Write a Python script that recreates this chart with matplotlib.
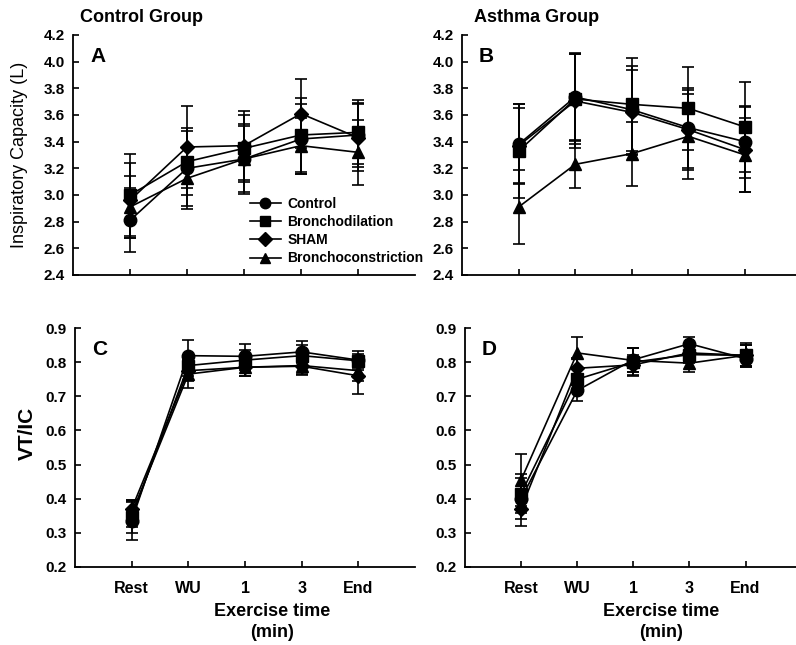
import matplotlib
matplotlib.use("Agg")
import matplotlib.pyplot as plt
import numpy as np

plt.rcParams['font.family'] = ['Liberation Sans', 'DejaVu Sans']

times = ["Rest", "WU", "1", "3", "End"]
groups = ["Control", "Bronchodilation", "SHAM", "Bronchoconstriction"]
markers = ["o", "s", "D", "^"]
msizes = [9, 8.5, 7, 9]

# panel A - inspiratory capacity, control group
a_control = [2.81, 3.20, 3.27, 3.42, 3.45]
a_control_err = [0.24, 0.28, 0.26, 0.26, 0.24]
a_bdil = [3.00, 3.25, 3.35, 3.45, 3.47]
a_bdil_err = [0.31, 0.25, 0.25, 0.28, 0.24]
a_sham = [2.96, 3.36, 3.37, 3.61, 3.43]
a_sham_err = [0.28, 0.31, 0.26, 0.26, 0.25]
a_bcon = [2.91, 3.125, 3.27, 3.37, 3.32]
a_bcon_err = [0.23, 0.23, 0.25, 0.21, 0.245]

# panel B - inspiratory capacity, asthma group
b_control = [3.38, 3.735, 3.64, 3.505, 3.40]
b_control_err = [0.30, 0.33, 0.33, 0.30, 0.27]
b_bdil = [3.33, 3.72, 3.68, 3.65, 3.51]
b_bdil_err = [0.35, 0.34, 0.35, 0.31, 0.34]
b_sham = [3.37, 3.705, 3.62, 3.49, 3.34]
b_sham_err = [0.28, 0.35, 0.32, 0.30, 0.32]
b_bcon = [2.91, 3.23, 3.31, 3.44, 3.30]
b_bcon_err = [0.28, 0.18, 0.24, 0.32, 0.28]

# panel C - VT/IC, control group
c_control = [0.336, 0.819, 0.817, 0.830, 0.806]
c_control_err = [0.058, 0.045, 0.035, 0.032, 0.028]
c_bdil = [0.346, 0.790, 0.806, 0.819, 0.804]
c_bdil_err = [0.045, 0.030, 0.030, 0.030, 0.020]
c_sham = [0.370, 0.775, 0.785, 0.788, 0.760]
c_sham_err = [0.025, 0.030, 0.025, 0.025, 0.052]
c_bcon = [0.356, 0.765, 0.785, 0.790, 0.775]
c_bcon_err = [0.040, 0.040, 0.025, 0.025, 0.030]

# panel D - VT/IC, asthma group
d_control = [0.400, 0.717, 0.807, 0.854, 0.810]
d_control_err = [0.060, 0.030, 0.035, 0.020, 0.025]
d_bdil = [0.415, 0.750, 0.800, 0.822, 0.820]
d_bdil_err = [0.057, 0.030, 0.040, 0.025, 0.030]
d_sham = [0.371, 0.782, 0.792, 0.827, 0.820]
d_sham_err = [0.050, 0.030, 0.030, 0.025, 0.030]
d_bcon = [0.455, 0.827, 0.805, 0.797, 0.820]
d_bcon_err = [0.075, 0.048, 0.035, 0.027, 0.035]

W, H = 796, 645
fig = plt.figure(figsize=(W / 100, H / 100), dpi=100)

def px(x0, y0, x1, y1):
    # pixel box -> figure fraction rect
    return [x0 / W, 1 - y1 / H, (x1 - x0) / W, (y1 - y0) / H]

axA = fig.add_axes(px(73, 35, 415, 275))
axB = fig.add_axes(px(462, 35, 796, 275))
axC = fig.add_axes(px(75, 328, 415, 567))
axD = fig.add_axes(px(465, 328, 796, 567))

xpos = np.arange(1, len(times) + 1)

def draw(ax, series, errs, ylim, yticks, fmt, letter, xmax, show_x):
    lines = []
    for vals, err, m, ms in zip(series, errs, markers, msizes):
        ax.errorbar(xpos, vals, yerr=err, fmt='none', ecolor='black',
                    elinewidth=1.2, capsize=4, capthick=1.2, zorder=2)
        ln, = ax.plot(xpos, vals, color='black', lw=1.2, marker=m,
                      markersize=ms, markerfacecolor='black',
                      markeredgecolor='black', zorder=3)
        lines.append(ln)
    ax.set_xlim(0, xmax)
    ax.set_ylim(*ylim)
    ax.set_yticks(yticks)
    ax.set_yticklabels([fmt % v for v in yticks])
    ax.set_xticks(xpos)
    if show_x:
        ax.set_xticklabels(times)
    else:
        ax.set_xticklabels([])
    for s in ['top', 'right']:
        ax.spines[s].set_visible(False)
    for s in ['left', 'bottom']:
        ax.spines[s].set_linewidth(1.3)
    ax.tick_params(direction='in', length=4, width=1.2, labelsize=11,
                   pad=6)
    ax.tick_params(axis='x', pad=10, labelsize=11.5)
    for lab in ax.get_xticklabels() + ax.get_yticklabels():
        lab.set_fontweight('bold')
    ax.text(0.05, 0.95, letter, transform=ax.transAxes, fontsize=15,
            fontweight='bold', va='top', ha='left')
    return lines

ic_ticks = np.round(np.arange(2.4, 4.21, 0.2), 1)
vt_ticks = np.round(np.arange(0.2, 0.91, 0.1), 1)

lines = draw(axA, [a_control, a_bdil, a_sham, a_bcon],
             [a_control_err, a_bdil_err, a_sham_err, a_bcon_err],
             (2.4, 4.2), ic_ticks, "%.1f", "A", 6, False)
draw(axB, [b_control, b_bdil, b_sham, b_bcon],
     [b_control_err, b_bdil_err, b_sham_err, b_bcon_err],
     (2.4, 4.2), ic_ticks, "%.1f", "B", 5.9, False)
draw(axC, [c_control, c_bdil, c_sham, c_bcon],
     [c_control_err, c_bdil_err, c_sham_err, c_bcon_err],
     (0.2, 0.9), vt_ticks, "%.1f", "C", 6, True)
draw(axD, [d_control, d_bdil, d_sham, d_bcon],
     [d_control_err, d_bdil_err, d_sham_err, d_bcon_err],
     (0.2, 0.9), vt_ticks, "%.1f", "D", 5.9, True)

leg = axA.legend(lines, groups, loc='upper left', frameon=False,
                 bbox_to_anchor=(250 / W, 1 - 197 / H),
                 bbox_transform=fig.transFigure, borderpad=0,
                 borderaxespad=0, handlelength=2.2, handletextpad=0.5,
                 labelspacing=0.3, prop={'weight': 'bold', 'size': 10})
for h in leg.legend_handles:
    h.set_markersize(7.5)

fig.text(80 / W, 1 - 17 / H, "Control Group", fontsize=13,
         fontweight='bold', va='center', ha='left')
fig.text(474 / W, 1 - 17 / H, "Asthma Group", fontsize=13,
         fontweight='bold', va='center', ha='left')

fig.text(20 / W, 1 - 155 / H, "Inspiratory Capacity (L)", fontsize=13,
         rotation=90, va='center', ha='center')
fig.text(27 / W, 1 - 433 / H, "VT/IC", fontsize=15, fontweight='bold',
         rotation=90, va='center', ha='center')

fig.text(272 / W, 1 - 622 / H, "Exercise time\n(min)", fontsize=13,
         fontweight='bold', va='center', ha='center', linespacing=1.25)
fig.text(661 / W, 1 - 622 / H, "Exercise time\n(min)", fontsize=13,
         fontweight='bold', va='center', ha='center', linespacing=1.25)

fig.savefig("out.png", dpi=100)
